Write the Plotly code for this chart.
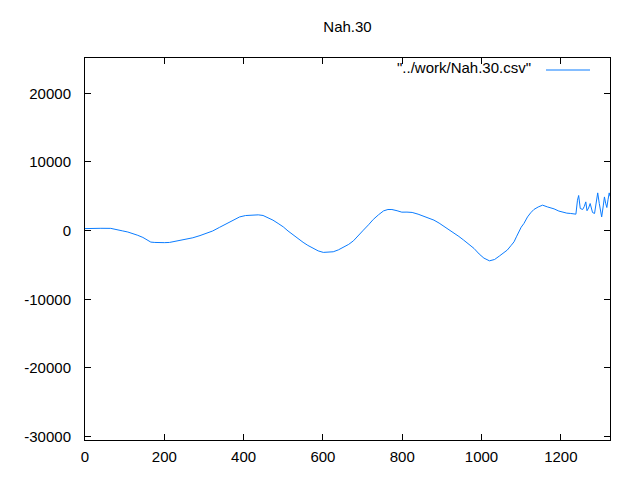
import plotly.graph_objects as go

x_vals = [0, 10, 40, 65, 80, 94, 108, 120, 133, 146, 156, 166, 176, 187, 200, 213, 225, 238, 255, 272,
          290, 306, 322, 339, 352, 365, 378, 390, 405, 424, 437, 449, 462, 474, 487, 500, 512, 525, 538, 550,
          562, 575, 588, 601, 614, 626, 639, 652, 665, 677, 690, 702, 715, 727, 740, 753, 764, 774, 787, 799,
          812, 825, 840, 854, 867, 880, 893, 905, 918, 930, 943, 955, 968, 981, 994, 1006, 1020, 1033, 1045, 1055,
          1065, 1074, 1082, 1088, 1094, 1100, 1107, 1116, 1124, 1132, 1143, 1154, 1166, 1183, 1195, 1204, 1215, 1225, 1238, 1242,
          1245, 1249, 1255, 1259, 1263, 1266, 1270, 1274, 1280, 1285, 1289, 1293, 1297, 1303, 1307, 1310, 1313, 1316, 1319, 1322,
          1324]
y_vals = [300, 330, 340, 330, 200, -30, -200, -410, -680, -990, -1350, -1670, -1720, -1770, -1750, -1720, -1600, -1480, -1280, -1040,
          -720, -410, -50, 470, 880, 1280, 1700, 2000, 2200, 2300, 2300, 2210, 1900, 1530, 1050, 550, -50, -650, -1150, -1700,
          -2150, -2590, -2950, -3170, -3150, -3080, -2800, -2440, -2000, -1480, -750, 70, 850, 1630, 2300, 2880, 3080, 3080, 2900, 2690,
          2700, 2650, 2400, 2110, 1850, 1530, 1100, 650, 170, -320, -850, -1380, -2000, -2590, -3400, -4000, -4400, -4200, -3700, -3300,
          -2830, -2200, -1630, -900, -170, 500, 1050, 2000, 2600, 3080, 3450, 3710, 3460, 3170, 2850, 2690, 2550, 2500, 2400, 4430,
          5120, 3230, 3080, 3500, 4190, 2900, 3300, 3950, 2640, 2500, 3800, 5500, 3950, 2000, 3600, 4910, 4000, 3370, 4500, 5500,
          5000]

x_ticks = [0, 200, 400, 600, 800, 1000, 1200]
y_ticks = [-30000, -20000, -10000, 0, 10000, 20000]
x_tick_labels = ["0", "200", "400", "600", "800", "1000", "1200"]
y_tick_labels = ["-30000", "-20000", "-10000", "0", "10000", "20000"]
title_text = "Nah.30"
legend_text = '"../work/Nah.30.csv"'

color = "#0a7cff"
font = dict(family="Liberation Sans, Arial, sans-serif", size=15, color="black")

fig = go.Figure()
fig.add_trace(go.Scatter(x=x_vals, y=y_vals, mode="lines",
                         line=dict(color=color, width=1), showlegend=False,
                         hoverinfo="skip"))

# page body has an 8px offset; margins compensate so the plot area sits at x 85..610, y 58..440
fig.update_layout(
    width=640, height=480,
    margin=dict(l=77, r=38, t=50, b=48),
    paper_bgcolor="white", plot_bgcolor="white",
    font=font,
    title=dict(text=title_text, x=(77 + 602) / 2 / 640, xanchor="center",
               y=1 - 19 / 480, yanchor="middle", font=font),
    showlegend=False,
)
fig.update_xaxes(range=[0, 1324], tickvals=x_ticks, ticktext=x_tick_labels,
                 ticks="inside", ticklen=6,
                 tickcolor="black", showline=True, linecolor="black", linewidth=1,
                 mirror="ticks", showgrid=False, zeroline=False, tickfont=font,
                 ticklabelstandoff=3)
fig.update_yaxes(range=[-30500, 25150], tickvals=y_ticks, ticktext=y_tick_labels,
                 ticks="inside", ticklen=6,
                 tickcolor="black", showline=True, linecolor="black", linewidth=1,
                 mirror="ticks", showgrid=False, zeroline=False, tickfont=font,
                 ticklabelstandoff=10)

fig.add_annotation(text=legend_text, xref="paper", yref="paper",
                   x=(533 - 85) / 525, y=(440 - 68) / 382,
                   xanchor="right", yanchor="middle", showarrow=False, font=font)
fig.add_shape(type="line", xref="paper", yref="paper",
              x0=(546 - 85) / 525, x1=(590 - 85) / 525,
              y0=(440 - 70) / 382, y1=(440 - 70) / 382,
              line=dict(color=color, width=1))

fig.write_html("out.html")
